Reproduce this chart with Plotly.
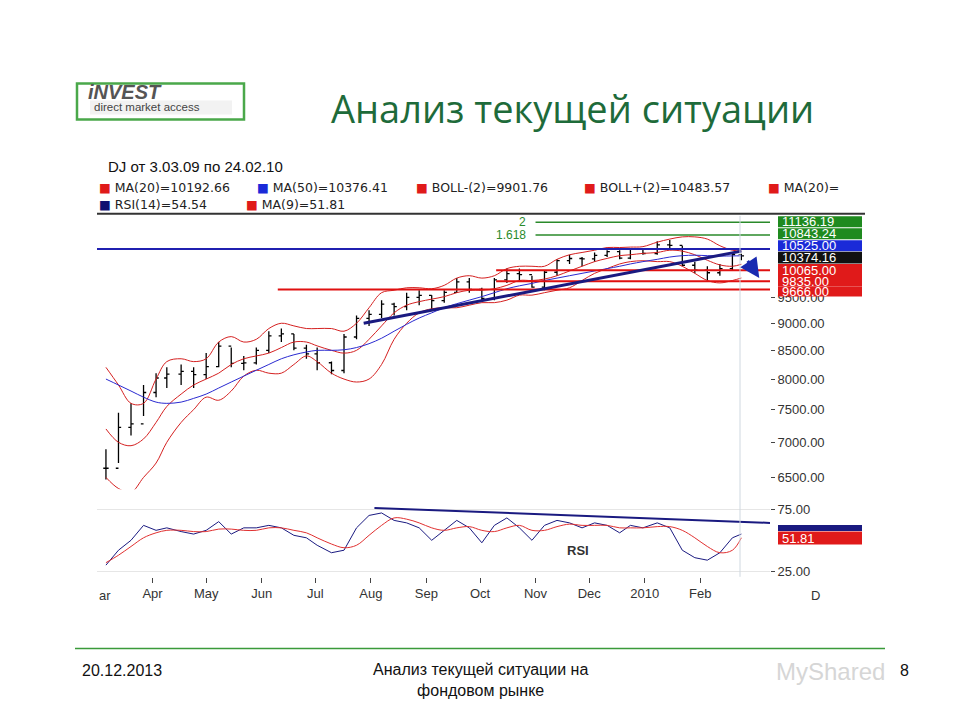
import math
import plotly.graph_objects as go

dates = ["2009-03-06","2009-03-13","2009-03-20","2009-03-27","2009-04-03","2009-04-09","2009-04-17","2009-04-24",
 "2009-05-01","2009-05-08","2009-05-15","2009-05-22","2009-05-29","2009-06-05","2009-06-12","2009-06-19","2009-06-26",
 "2009-07-02","2009-07-10","2009-07-17","2009-07-24","2009-07-31","2009-08-07","2009-08-14","2009-08-21","2009-08-28",
 "2009-09-04","2009-09-11","2009-09-18","2009-09-25","2009-10-02","2009-10-09","2009-10-16","2009-10-23","2009-10-30",
 "2009-11-06","2009-11-13","2009-11-20","2009-11-27","2009-12-04","2009-12-11","2009-12-18","2009-12-24","2009-12-31",
 "2010-01-08","2010-01-15","2010-01-22","2010-01-29","2010-02-05","2010-02-12","2010-02-19","2010-02-24"]
close = [6627,7224,7279,7776,8018,8083,8131,8076,8212,8575,8268,8277,8500,8764,8799,8539,8438,8280,8146,8743,9093,9171,
 9370,9321,9505,9544,9441,9605,9820,9665,9487,9864,9995,9972,9712,10023,10270,10318,10309,10388,10471,10328,10520,10428,
 10618,10609,10172,10067,10012,10099,10402,10374]
high = [6900,7450,7600,7900,8100,8200,8250,8200,8450,8650,8550,8400,8550,8850,8900,8800,8600,8550,8300,8800,9150,9250,
 9450,9400,9600,9650,9550,9650,9900,9900,9700,9900,10100,10100,9950,10050,10300,10400,10350,10450,10500,10500,10550,10550,
 10700,10730,10600,10250,10150,10200,10450,10420]
low = [6470,6700,7100,7400,7700,7850,7900,7850,8000,8200,8200,8150,8250,8450,8650,8500,8350,8150,8080,8100,8700,8950,
 9100,9150,9250,9350,9250,9400,9600,9600,9430,9450,9800,9850,9700,9650,9950,10200,10150,10250,10350,10300,10300,10400,
 10400,10550,10150,10000,9850,9950,10050,10280]
ma50 = [8000,7900,7800,7700,7620,7600,7620,7680,7750,7850,7950,8050,8150,8250,8350,8420,8470,8500,8500,8510,8550,8620,
 8720,8850,8980,9100,9200,9300,9380,9450,9520,9600,9680,9740,9790,9850,9900,9950,10000,10050,10100,10150,10200,10250,
 10300,10350,10380,10390,10380,10370,10375,10376]
ma20 = [7200,7000,6950,7050,7300,7550,7750,7900,8000,8100,8250,8350,8400,8450,8550,8650,8650,8580,8500,8450,8500,8700,
 8950,9200,9350,9420,9470,9520,9600,9650,9650,9680,9750,9850,9850,9880,9950,10050,10150,10250,10320,10380,10400,10430,
 10450,10500,10480,10400,10280,10180,10150,10193]
boll_up = [8200,7900,7600,7600,8000,8300,8350,8300,8350,8650,8750,8650,8700,8900,9000,8950,8900,8900,8900,8850,9000,9300,
 9600,9650,9700,9700,9680,9750,9900,9950,9900,9950,10100,10150,10150,10150,10300,10400,10450,10500,10560,10560,10570,10580,
 10680,10750,10800,10800,10750,10600,10500,10484]
boll_dn = [6500,6350,6300,6500,6700,7000,7300,7500,7700,7650,7800,8050,8150,8100,8100,8250,8400,8300,8100,8000,7950,8000,
 8250,8700,9000,9200,9280,9300,9300,9350,9400,9400,9450,9550,9550,9600,9650,9700,9850,10000,10100,10200,10250,10270,
 10250,10250,10150,10000,9850,9800,9850,9902]
rsi = [30,42,50,62,58,60,57,55,58,65,55,60,60,62,60,54,52,46,40,42,60,70,72,66,64,60,50,58,66,60,48,62,68,60,50,62,66,64,
 60,64,62,56,62,60,64,60,42,36,34,40,52,55]
rsi_ma = [32,38,45,52,56,58,58,57,57,59,59,58,58,60,60,58,56,52,47,44,46,54,62,68,67,64,60,58,60,61,58,57,60,62,58,58,
 61,63,62,62,62,60,60,60,61,61,58,52,45,40,42,52]

mon_vals = ["2009-04-01","2009-05-01","2009-06-01","2009-07-01","2009-08-01","2009-09-01","2009-10-01","2009-11-01",
 "2009-12-01","2010-01-01","2010-02-01"]
mon_text = ["Apr","May","Jun","Jul","Aug","Sep","Oct","Nov","Dec","2010","Feb"]
price_ticks = [6500,7000,7500,8000,8500,9000,9500]
levels_red = [10065.00, 9835.00, 9666.00]
levels_red_start = ["2009-10-10","2009-10-10","2009-06-10"]
fib_levels = [11136.19, 10843.24]
fib_names = ["2", "1.618"]
blue_level = 10525.00
xr = ["2009-03-01","2010-03-12"]

W, H = 960, 720
OFF = 8
def px(x): return (x - OFF) / W
def py(y): return 1 - (y - OFF) / H

fig = go.Figure()
fig.add_trace(go.Ohlc(x=dates, open=[close[0]]+close[:-1], high=high, low=low, close=close,
    increasing_line_color="black", decreasing_line_color="black", line_width=1.3, xaxis="x", yaxis="y"))
for s, c in [(boll_up, "#d42020"), (boll_dn, "#d42020"), (ma20, "#d42020"), (ma50, "#2a2ad0")]:
    fig.add_trace(go.Scatter(x=dates, y=s, mode="lines", line=dict(color=c, width=1, shape="spline"), xaxis="x", yaxis="y"))
fig.add_trace(go.Scatter(x=xr, y=[blue_level]*2, mode="lines", line=dict(color="#2020b0", width=2), xaxis="x", yaxis="y"))
for v, st in zip(levels_red, levels_red_start):
    fig.add_trace(go.Scatter(x=[st, xr[1]], y=[v, v], mode="lines", line=dict(color="#e01010", width=2), xaxis="x", yaxis="y"))
for v in fib_levels:
    fig.add_trace(go.Scatter(x=["2009-11-01", xr[1]], y=[v, v], mode="lines", line=dict(color="#2a8a2a", width=1.5), xaxis="x", yaxis="y"))
fig.add_trace(go.Scatter(x=["2009-07-28","2010-02-24"], y=[9000, 10480], mode="lines", line=dict(color="#1a1a80", width=3), xaxis="x", yaxis="y"))
fig.add_trace(go.Scatter(x=dates, y=rsi, mode="lines", line=dict(color="#1a1a80", width=1), xaxis="x2", yaxis="y2"))
fig.add_trace(go.Scatter(x=dates, y=rsi_ma, mode="lines", line=dict(color="#e03030", width=1, shape="spline"), xaxis="x2", yaxis="y2"))
fig.add_trace(go.Scatter(x=["2009-08-03", xr[1]], y=[76, 64], mode="lines", line=dict(color="#1a1a80", width=2), xaxis="x2", yaxis="y2"))

ax = dict(type="date", range=xr, showgrid=False, zeroline=False, domain=[px(97), px(770)])
fig.update_layout(
    width=W, height=H, margin=dict(l=0, r=0, t=0, b=0), showlegend=False,
    paper_bgcolor="white", plot_bgcolor="white", font=dict(family="Arial", color="#222"),
    xaxis=dict(ax, anchor="y", showticklabels=False, rangeslider=dict(visible=False)),
    yaxis=dict(type="log", range=[3.802, 4.0527], domain=[py(490), py(215)], side="right", anchor="x",
               tickvals=price_ticks, tickformat=".2f", ticks="outside", ticklen=4, showgrid=False,
               tickfont=dict(size=13, color="#333")),
    xaxis2=dict(ax, anchor="y2", tickvals=mon_vals, ticktext=mon_text, ticks="outside", ticklen=5,
                tickfont=dict(size=13, color="#333")),
    yaxis2=dict(range=[20.6, 79], domain=[py(578), py(505)], side="right", anchor="x2",
                tickvals=[25, 75], tickformat=".2f", ticks="outside", ticklen=4, showgrid=True,
                gridcolor="#e6e6e6", tickfont=dict(size=13, color="#333")),
)
shapes = [
    dict(type="line", xref="paper", yref="paper", x0=px(97), x1=px(865), y0=py(213), y1=py(213), line=dict(color="#333", width=2)),
    dict(type="line", xref="paper", yref="paper", x0=px(740), x1=px(740), y0=py(215), y1=py(578), line=dict(color="#cfd8e0", width=1)),
    dict(type="line", xref="paper", yref="paper", x0=px(75), x1=px(885), y0=py(650), y1=py(650), line=dict(color="#3a9a3a", width=1.5)),
    dict(type="rect", xref="paper", yref="paper", x0=px(77), x1=px(244), y0=py(118), y1=py(82), line=dict(color="#4aa84a", width=2.5), fillcolor="white"),
    dict(type="rect", xref="paper", yref="paper", x0=px(90), x1=px(232), y0=py(113), y1=py(99), line_width=0, fillcolor="#f2f2f2"),
]
ann = []
def A(x, y, text, size, color="#111", xanchor="center", family="Arial"):
    ann.append(dict(x=px(x), y=py(y), xref="paper", yref="paper", text=text, showarrow=False, xanchor=xanchor,
                    yanchor="middle", font=dict(size=size, color=color, family=family)))
def box(y, txt, col, x0=778, x1=862, h=12):
    shapes.append(dict(type="rect", xref="paper", yref="paper", x0=px(x0), x1=px(x1), y0=py(y+h/2), y1=py(y-h/2), fillcolor=col, line_width=0))
    if txt:
        A(x0 + 2, y, txt, 13, "white", "left")
A(830, 323 - 26, "", 1)
box(221, "11136.19", "#1f8a1f", h=11)
box(233, "10843.24", "#1f8a1f", h=11)
box(245, "10525.00", "#1a2ad8", h=11)
box(257, "10374.16", "#111", h=12)
box(270, "10065.00", "#e01a1a", h=13)
box(281, "9835.00", "#e01a1a", h=10)
box(291, "9666.00", "#e01a1a", h=10)
box(529, "", "#1a1a80", h=6)
box(539, "51.81", "#e01a1a", h=13)
for v, t in zip(fib_levels, fib_names):
    ann.append(dict(x="2009-10-28", y=math.log10(v), xref="x", yref="y", text=t, showarrow=False,
                    xanchor="right", yanchor="middle", font=dict(size=12, color="#2a8a2a")))
ann.append(dict(x="2010-03-06", y=math.log10(9900), ax="2010-02-27", ay=math.log10(10300), xref="x", yref="y", axref="x", ayref="y",
                showarrow=True, arrowhead=2, arrowsize=1.3, arrowwidth=3, arrowcolor="#1a2ab0", text=""))
ann.append(dict(x="2009-11-25", y=42, xref="x2", yref="y2", text="<b>RSI</b>", showarrow=False, font=dict(size=13, color="#333")))
A(97, 597, "ar", 13, "#333", "left")
A(815, 597, "D", 13, "#333")
leg1 = [("MA(20)=10192.66", "#e01a1a"), ("MA(50)=10376.41", "#1a2ad8"), ("BOLL-(2)=9901.76", "#e01a1a"),
        ("BOLL+(2)=10483.57", "#e01a1a"), ("MA(20)=", "#e01a1a")]
for (t, c), x in zip(leg1, [97, 255, 414, 582, 766]):
    A(x, 186, f"<span style='color:{c}'>■</span> {t}", 12.5, "#222", "left", "DejaVu Sans")
for (t, c), x in zip([("RSI(14)=54.54", "#101070"), ("MA(9)=51.81", "#e01a1a")], [97, 244]):
    A(x, 204, f"<span style='color:{c}'>■</span> {t}", 12.5, "#222", "left", "DejaVu Sans")
A(106, 165, "DJ от 3.03.09 по 24.02.10", 15, "#111", "left")
A(572, 107, "Анализ текущей ситуации", 38, "#1e6b3a", "center", "Open Sans")
A(86, 90, "<b><i>iNVEST</i></b>", 20, "#555", "left")
A(92, 106, "direct market access", 11.5, "#444", "left")
A(80, 672, "20.12.2013", 16)
ann[-1]["xanchor"] = "left"
A(480, 682, "Анализ текущей ситуации на<br>фондовом рынке", 16)
A(830, 673, "MyShared", 24, "#d6d6d6")
A(904, 672, "8", 16)
fig.update_layout(shapes=shapes, annotations=ann)
fig.write_html("out.html")
